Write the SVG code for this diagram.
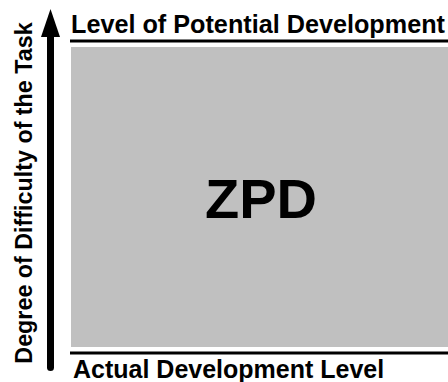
<svg xmlns="http://www.w3.org/2000/svg" width="448" height="382" viewBox="0 0 448 382">
<style>
.t{font-family:"Liberation Sans",Arial,sans-serif;font-weight:bold;fill:#000}
.rule{stroke:#000;stroke-width:3}
</style>
<rect width="448" height="382" fill="#fff"/>
<g id="zpd">
<rect x="71" y="47" width="377" height="300" fill="#c0c0c0"/>
<text class="t" x="261" y="218" font-size="56" text-anchor="middle">ZPD</text>
</g>
<g id="potential">
<line class="rule" x1="70" y1="41" x2="448" y2="41"/>
<text class="t" x="71" y="33" font-size="25" textLength="374" lengthAdjust="spacingAndGlyphs">Level of Potential Development</text>
</g>
<g id="actual">
<line class="rule" x1="70" y1="353" x2="448" y2="353"/>
<text class="t" x="73" y="378" font-size="25">Actual Development Level</text>
</g>
<g id="connectors">
<line x1="50.5" y1="36" x2="50.5" y2="367.5" stroke="#000" stroke-width="7" stroke-linecap="round"/>
<polygon points="50.5,9 41,37 60,37" fill="#000"/>
</g>
<g id="axis-label">
<text class="t" transform="translate(32,193) rotate(-90)" font-size="23.3" text-anchor="middle">Degree of Difficulty of the Task</text>
</g>
</svg>
